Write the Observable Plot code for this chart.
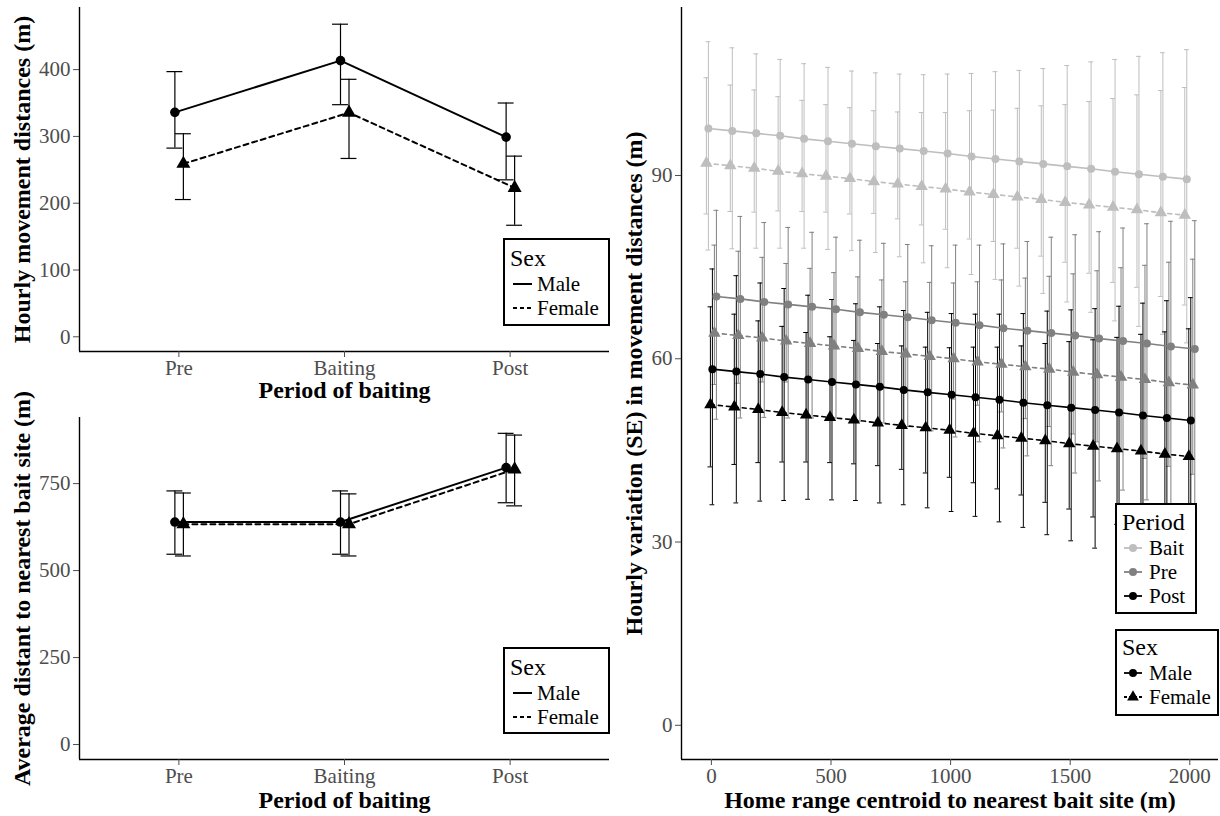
<!DOCTYPE html>
<html><head><meta charset="utf-8">
<script src="https://cdn.jsdelivr.net/npm/d3@7"></script>
<script src="https://cdn.jsdelivr.net/npm/@observablehq/plot@0.6"></script>
<style>
html,body{margin:0;padding:0;background:#fff;}
#root{position:relative;width:1220px;height:816px;overflow:hidden;font-family:"Liberation Serif","Times New Roman",serif;}
#root svg{position:absolute;overflow:visible;}
</style></head><body><div id="root"></div>
<script>
// ---------- data: left panels ----------
const periods = ["Pre", "Baiting", "Post"];
const sexes = ["Male", "Female"];

// Hourly movement distances (m)
const moveMaleMean = [336, 413.5, 299];
const moveMaleLo = [282.5, 347.5, 235];
const moveMaleHi = [397, 468, 350];
const moveFemaleMean = [259, 335.5, 223];
const moveFemaleLo = [205.5, 267, 167];
const moveFemaleHi = [304, 385.5, 270.5];

// Average distance to nearest bait site (m)
const distMaleMean = [639.5, 639.5, 796];
const distMaleLo = [547, 547, 695];
const distMaleHi = [729, 729, 894.5];
const distFemaleMean = [633.5, 633.5, 791];
const distFemaleLo = [542, 542, 686];
const distFemaleHi = [723, 720.5, 889.5];

// ---------- data: right panel ----------
const distances = [0,100,200,300,400,500,600,700,800,900,1000,1100,1200,1300,1400,1500,1600,1700,1800,1900,2000];
const periodLevels = ["Bait", "Pre", "Post"];

const baitMaleMean = [97.7,97.3,96.9,96.5,96.0,95.6,95.2,94.8,94.4,94.0,93.6,93.1,92.7,92.3,91.9,91.5,91.1,90.6,90.2,89.8,89.4];
const baitMaleLo = [77.8,78.0,78.1,78.1,78.1,77.9,77.7,77.4,76.7,75.7,74.9,73.8,73.0,71.9,70.7,69.3,67.6,66.2,65.3,64.0,62.6];
const baitMaleHi = [111.9,110.9,109.9,109.0,108.3,107.7,107.1,106.8,106.6,106.5,106.6,106.7,107.0,107.2,107.5,108.0,108.6,109.0,109.5,110.1,110.6];
const baitFemaleMean = [92.0,91.6,91.2,90.7,90.3,89.9,89.5,89.0,88.6,88.2,87.8,87.3,86.9,86.5,86.1,85.6,85.2,84.8,84.4,83.9,83.5];
const baitFemaleLo = [83.7,84.1,84.0,84.2,84.1,84.0,83.7,83.8,82.9,81.9,81.2,79.6,79.2,78.1,76.8,75.8,74.0,72.5,71.7,70.2,68.8];
const baitFemaleHi = [106.0,104.8,104.0,102.9,102.3,101.6,101.1,100.6,100.4,100.3,100.3,100.6,100.7,101.0,101.4,101.6,102.1,102.6,103.2,103.9,104.4];

const preMaleMean = [70.2,69.8,69.3,68.9,68.5,68.1,67.6,67.2,66.8,66.3,65.9,65.5,65.0,64.6,64.2,63.8,63.3,62.9,62.5,62.0,61.6];
const preMaleLo = [50.1,50.3,50.4,50.3,50.3,50.3,49.8,49.5,48.9,48.2,47.2,46.4,45.4,44.1,42.5,41.3,40.0,38.5,36.9,35.7,34.7];
const preMaleHi = [84.3,83.3,82.3,81.5,80.7,79.9,79.4,78.9,78.7,78.5,78.6,78.6,78.8,79.2,79.9,80.3,80.8,81.4,82.1,82.5,82.6];
const preFemaleMean = [64.2,63.8,63.4,62.9,62.5,62.1,61.7,61.2,60.8,60.4,60.0,59.5,59.1,58.7,58.3,57.8,57.4,57.0,56.6,56.1,55.7];
const preFemaleLo = [55.8,56.0,56.2,56.2,56.2,56.1,55.8,55.5,55.0,54.3,53.4,52.4,51.3,50.2,48.9,47.7,46.4,45.1,43.7,42.4,41.1];
const preFemaleHi = [78.6,77.6,76.6,75.6,74.8,74.1,73.4,72.9,72.6,72.5,72.4,72.6,72.9,73.2,73.5,73.9,74.4,74.9,75.3,75.8,76.3];

const postMaleMean = [58.3,57.9,57.5,57.0,56.6,56.2,55.8,55.4,54.9,54.5,54.1,53.7,53.3,52.8,52.4,52.0,51.6,51.2,50.7,50.3,49.9];
const postMaleLo = [36.1,36.4,36.7,36.8,37.0,36.9,36.8,36.4,36.1,35.6,35.0,34.2,33.3,32.4,31.2,30.2,29.0,27.8,26.5,25.2,23.9];
const postMaleHi = [74.7,73.6,72.4,71.5,70.4,69.7,69.0,68.5,67.9,67.6,67.4,67.3,67.3,67.4,67.8,68.0,68.2,68.6,69.1,69.5,70.0];
const postFemaleMean = [52.5,52.1,51.7,51.2,50.8,50.4,50.0,49.5,49.1,48.7,48.3,47.8,47.4,47.0,46.6,46.1,45.7,45.3,44.9,44.4,44.0];
const postFemaleLo = [42.3,42.7,43.0,43.1,43.1,43.0,42.8,42.5,41.9,41.3,40.6,39.7,38.7,37.7,36.5,35.4,34.1,32.9,31.6,30.4,29.1];
const postFemaleHi = [68.5,67.3,66.2,65.3,64.3,63.6,63.0,62.5,62.1,61.9,61.8,61.9,61.9,62.1,62.5,62.8,63.1,63.5,64.0,64.4,64.9];

// ---------- styles ----------
const FONT = "Liberation Serif, Times New Roman, serif";
const TICK_COLOR = "#4d4d4d";
const periodColor = {Bait: "#bebebe", Pre: "#808080", Post: "#000000"};

const root = document.getElementById("root");

function leftRows(mm, ml, mh, fm, fl, fh) {
  const rows = [];
  periods.forEach((p, k) => {
    rows.push({i: k + 1, period: p, sex: "Male", mean: mm[k], lo: ml[k], hi: mh[k]});
    rows.push({i: k + 1, period: p, sex: "Female", mean: fm[k], lo: fl[k], hi: fh[k]});
  });
  return rows;
}

function leftPanel({rows, yDomain, yTicks, yTitle, top, height, mTop, mBottom, xTitleDy}) {
  const xDomain = [0.4, 3.6];
  const cap = 0.048;
  const marks = [];
  for (const s of sexes) {
    const d = rows.filter(r => r.sex === s);
    const dx = s === "Male" ? -4 : 4.5;
    marks.push(Plot.ruleX(d, {x: "i", y1: "lo", y2: "hi", dx, stroke: "#000", strokeWidth: 1.2}));
    marks.push(Plot.ruleY(d, {y: "hi", x1: r => r.i - cap, x2: r => r.i + cap, dx, stroke: "#000", strokeWidth: 1.2}));
    marks.push(Plot.ruleY(d, {y: "lo", x1: r => r.i - cap, x2: r => r.i + cap, dx, stroke: "#000", strokeWidth: 1.2}));
  }
  for (const s of sexes) {
    const d = rows.filter(r => r.sex === s);
    const dx = s === "Male" ? -4 : 4.5;
    marks.push(Plot.line(d, {x: "i", y: "mean", dx, stroke: "#000", strokeWidth: 2, strokeDasharray: s === "Female" ? "5,4" : null}));
    marks.push(Plot.dot(d, {x: "i", y: "mean", dx, symbol: s === "Male" ? "circle" : "triangle", fill: "#000", stroke: "none", r: s === "Male" ? 4.8 : 5.2}));
  }
  marks.push(Plot.ruleX([xDomain[0]], {stroke: "#000", strokeWidth: 1.4}));
  marks.push(Plot.ruleY([yDomain[0]], {stroke: "#000", strokeWidth: 1.4}));
  marks.push(Plot.axisY({ticks: yTicks, tickFormat: d3.format("d"), tickSize: 6, tickPadding: 3, fontSize: 21, color: TICK_COLOR, label: null}));
  marks.push(Plot.axisX({ticks: [1, 2, 3], tickFormat: i => periods[i - 1], tickSize: 6, tickPadding: 3, fontSize: 21, color: TICK_COLOR, label: null}));
  marks.push(Plot.text([yTitle], {text: d => d, frameAnchor: "left", rotate: -90, dx: -57, textAnchor: "middle", lineAnchor: "middle", fontSize: 24, fontWeight: "bold", fill: "#000", fontFamily: FONT}));
  marks.push(Plot.text(["Period of baiting"], {text: d => d, frameAnchor: "bottom", dy: xTitleDy, textAnchor: "middle", lineAnchor: "middle", fontSize: 24, fontWeight: "bold", fill: "#000", fontFamily: FONT}));
  const svg = Plot.plot({
    width: 615, height,
    marginLeft: 79, marginRight: 6, marginTop: mTop, marginBottom: mBottom,
    x: {domain: xDomain},
    y: {domain: yDomain},
    style: {fontFamily: FONT, background: "transparent", overflow: "visible"},
    marks
  });
  svg.style.left = "0px";
  svg.style.top = top + "px";
  root.appendChild(svg);
}

leftPanel({
  rows: leftRows(moveMaleMean, moveMaleLo, moveMaleHi, moveFemaleMean, moveFemaleLo, moveFemaleHi),
  yDomain: [-22, 493], yTicks: [0, 100, 200, 300, 400],
  yTitle: "Hourly movement distances (m)", top: 0, height: 405, mTop: 7, mBottom: 54, xTitleDy: 39
});
leftPanel({
  rows: leftRows(distMaleMean, distMaleLo, distMaleHi, distFemaleMean, distFemaleLo, distFemaleHi),
  yDomain: [-43, 940], yTicks: [0, 250, 500, 750],
  yTitle: "Average distant to nearest bait site (m)", top: 405, height: 411, mTop: 12, mBottom: 57, xTitleDy: 41
});

// ---------- right panel ----------
const seriesList = [
  {period: "Bait", sex: "Female", mean: baitFemaleMean, lo: baitFemaleLo, hi: baitFemaleHi, dx: -5},
  {period: "Bait", sex: "Male", mean: baitMaleMean, lo: baitMaleLo, hi: baitMaleHi, dx: -3},
  {period: "Pre", sex: "Female", mean: preFemaleMean, lo: preFemaleLo, hi: preFemaleHi, dx: 3},
  {period: "Pre", sex: "Male", mean: preMaleMean, lo: preMaleLo, hi: preMaleHi, dx: 5},
  {period: "Post", sex: "Female", mean: postFemaleMean, lo: postFemaleLo, hi: postFemaleHi, dx: -1},
  {period: "Post", sex: "Male", mean: postMaleMean, lo: postMaleLo, hi: postMaleHi, dx: 1}
];
{
  const xDomain = [-125, 2120];
  const yDomain = [-5.6, 117.5];
  const cap = 10;
  const marks = [];
  const groups = seriesList.map(s => ({...s, rows: distances.map((x, j) => ({x, mean: s.mean[j], lo: s.lo[j], hi: s.hi[j]}))}));
  for (const g of groups) {
    const c = periodColor[g.period];
    marks.push(Plot.ruleX(g.rows, {x: "x", y1: "lo", y2: "hi", dx: g.dx, stroke: c, strokeWidth: 1}));
    marks.push(Plot.ruleY(g.rows, {y: "hi", x1: r => r.x - cap, x2: r => r.x + cap, dx: g.dx, stroke: c, strokeWidth: 1}));
    marks.push(Plot.ruleY(g.rows, {y: "lo", x1: r => r.x - cap, x2: r => r.x + cap, dx: g.dx, stroke: c, strokeWidth: 1}));
  }
  for (const g of groups) {
    const c = periodColor[g.period];
    marks.push(Plot.line(g.rows, {x: "x", y: "mean", dx: g.dx, stroke: c, strokeWidth: 1.6, strokeDasharray: g.sex === "Female" ? "4,4" : null}));
    marks.push(Plot.dot(g.rows, {x: "x", y: "mean", dx: g.dx, symbol: g.sex === "Male" ? "circle" : "triangle", fill: c, stroke: "none", r: g.sex === "Male" ? 4 : 4.6}));
  }
  marks.push(Plot.ruleX([xDomain[0]], {stroke: "#000", strokeWidth: 1.4}));
  marks.push(Plot.ruleY([yDomain[0]], {stroke: "#000", strokeWidth: 1.4}));
  marks.push(Plot.axisY({ticks: [0, 30, 60, 90], tickFormat: d3.format("d"), tickSize: 6, tickPadding: 3, fontSize: 21, color: TICK_COLOR, label: null}));
  marks.push(Plot.axisX({ticks: [0, 500, 1000, 1500, 2000], tickFormat: d3.format("d"), tickSize: 6, tickPadding: 3, fontSize: 21, color: TICK_COLOR, label: null}));
  marks.push(Plot.text(["Hourly variation (SE) in movement distances (m)"], {text: d => d, frameAnchor: "left", rotate: -90, dx: -47, textAnchor: "middle", lineAnchor: "middle", fontSize: 24, fontWeight: "bold", fill: "#000", fontFamily: FONT}));
  marks.push(Plot.text(["Home range centroid to nearest bait site (m)"], {text: d => d, frameAnchor: "bottom", dy: 41, textAnchor: "middle", lineAnchor: "middle", fontSize: 24, fontWeight: "bold", fill: "#000", fontFamily: FONT}));
  const svg = Plot.plot({
    width: 610, height: 816,
    marginLeft: 71, marginRight: 2, marginTop: 7, marginBottom: 57,
    x: {domain: xDomain},
    y: {domain: yDomain},
    style: {fontFamily: FONT, background: "transparent", overflow: "visible"},
    marks
  });
  svg.style.left = "610px";
  svg.style.top = "0px";
  root.appendChild(svg);
}

// ---------- legends ----------
function legend({left, top, width, height, title, titleY, items, keyX0, keyX1, labelX}) {
  const svg = d3.select(root).append("svg")
    .attr("width", width).attr("height", height)
    .style("left", left + "px").style("top", top + "px")
    .style("font-family", FONT);
  svg.append("rect").attr("x", 1).attr("y", 1).attr("width", width - 2).attr("height", height - 2)
    .attr("fill", "#fff").attr("stroke", "#000").attr("stroke-width", 2);
  svg.append("text").attr("x", 7).attr("y", titleY).attr("font-size", 24).attr("fill", "#000").text(title);
  for (const it of items) {
    svg.append("line").attr("x1", keyX0).attr("x2", keyX1).attr("y1", it.y - 7).attr("y2", it.y - 7)
      .attr("stroke", it.color).attr("stroke-width", it.width || 1.8)
      .attr("stroke-dasharray", it.dash || null);
    if (it.symbol) {
      svg.append("path").attr("d", d3.symbol(it.symbol === "circle" ? d3.symbolCircle : d3.symbolTriangle, it.symbol === "circle" ? 50 : 60)())
        .attr("transform", `translate(${(keyX0 + keyX1) / 2},${it.y - 7})`).attr("fill", it.color);
    }
    svg.append("text").attr("x", labelX).attr("y", it.y).attr("font-size", 21).attr("fill", "#000").text(it.label);
  }
}
const sexLineItems = (y0) => [
  {label: "Male", y: y0, color: "#000", width: 2},
  {label: "Female", y: y0 + 24, color: "#000", width: 2, dash: "4,3"}
];
legend({left: 503, top: 238, width: 107, height: 88, title: "Sex", titleY: 28, items: sexLineItems(53), keyX0: 10, keyX1: 29, labelX: 34});
legend({left: 503, top: 647, width: 107, height: 87, title: "Sex", titleY: 28, items: sexLineItems(53), keyX0: 10, keyX1: 29, labelX: 34});
legend({left: 1115, top: 503, width: 82, height: 111, title: "Period", titleY: 27,
  items: periodLevels.map((p, k) => ({label: p, y: 52 + 24 * k, color: periodColor[p], symbol: "circle", width: 1.8})),
  keyX0: 9, keyX1: 27, labelX: 34});
legend({left: 1115, top: 629, width: 104, height: 87, title: "Sex", titleY: 26,
  items: [
    {label: "Male", y: 51, color: "#000", symbol: "circle"},
    {label: "Female", y: 75, color: "#000", symbol: "triangle", dash: "3,2"}
  ],
  keyX0: 9, keyX1: 27, labelX: 34});
</script></body></html>
